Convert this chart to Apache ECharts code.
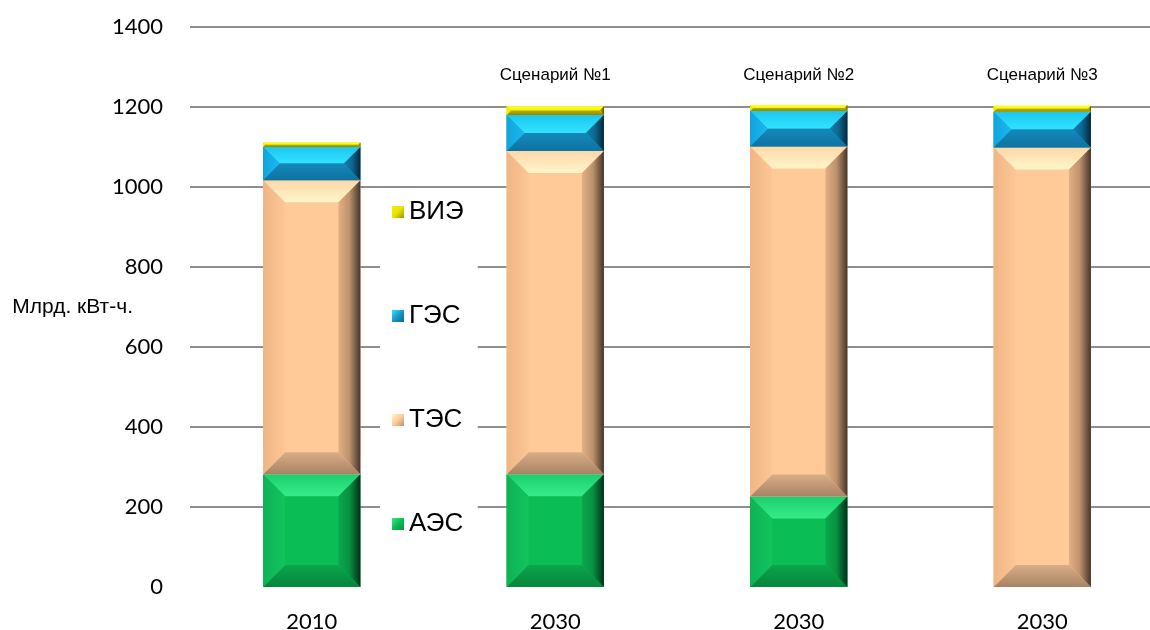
<!DOCTYPE html>
<html><head><meta charset="utf-8">
<script src="https://cdn.jsdelivr.net/npm/echarts@6/dist/echarts.min.js"></script>
<style>html,body{margin:0;padding:0;background:#fff}#c{width:1150px;height:630px}</style>
</head><body><div id="c"></div>
<script>
// ---- data ----
const categories = ['2010', '2030', '2030', '2030'];
const scenarioLabels = ['', 'Сценарий №1', 'Сценарий №2', 'Сценарий №3'];
const seriesNames = ['АЭС', 'ТЭС', 'ГЭС', 'ВИЭ'];
const aes = [282, 282, 226, 0];
const tes = [735, 808, 875, 1099];
const ges = [83, 90, 89, 89];
const vie = [11, 22, 15, 15];
const yMin = 0, yMax = 1400, yStep = 200;
const yAxisName = 'Млрд. кВт-ч.';

// ---- styles ----
const palettes = {
  'АЭС': { center: '#0ABD55', top: ['#1CCF6E', '#36EC89'], bottom: ['#0AA64C', '#07853B'],
           left: ['#0EB256', '#12C45D'], right: ['#0AA84D', '#08913F', '#02301A'] },
  'ТЭС': { center: '#FFCA98', top: ['#FFD7A8', '#FFF6C9'], bottom: ['#D9AD86', '#A78365'],
           left: ['#F0B584', '#FDC695'], right: ['#E4AF82', '#BC916D', '#46342A'] },
  'ГЭС': { center: '#1897C9', top: ['#1DC6F0', '#30E4FF'], bottom: ['#1489BC', '#0E72A0'],
           left: ['#10A4DC', '#1BB8EE'], right: ['#137FB0', '#0D6690', '#05283A'] },
  'ВИЭ': { center: '#E8E200', top: ['#FFFF30', '#F6F200'], bottom: ['#B8B000', '#8E8800'],
           left: ['#F2EE00', '#EEEA00'], right: ['#C8C200', '#9A9400', '#4A4600'] }
};

function lg(x, y, x2, y2, stops) {
  return { type: 'linear', x: x, y: y, x2: x2, y2: y2,
    colorStops: stops.map((c, k) => ({ offset: k / (stops.length - 1), color: c })) };
}

function bevelItem(pal) {
  return function (params, api) {
    const i = api.value(0), v0 = api.value(1), v1 = api.value(2);
    if (v1 - v0 <= 0) return null;
    const pB = api.coord([i, v0]), pT = api.coord([i, v1]);
    const bw = api.size([1, 0])[0] * 0.4;
    const x0 = pB[0] - bw / 2, x1 = pB[0] + bw / 2;
    const yb = pB[1], yt = pT[1];
    const h = yb - yt;
    const d = Math.min(22, h / 2, bw / 2);
    const poly = (pts, fill) => ({ type: 'polygon', shape: { points: pts }, style: { fill: fill, stroke: null } });
    return { type: 'group', children: [
      { type: 'rect', shape: { x: x0, y: yt, width: bw, height: h }, style: { fill: pal.center } },
      poly([[x0, yt], [x1, yt], [x1 - d, yt + d], [x0 + d, yt + d]], lg(0, 0, 0, 1, pal.top)),
      poly([[x0, yb], [x1, yb], [x1 - d, yb - d], [x0 + d, yb - d]], lg(0, 0, 0, 1, pal.bottom)),
      poly([[x0, yt], [x0 + d, yt + d], [x0 + d, yb - d], [x0, yb]], lg(0, 0, 1, 0, pal.left)),
      poly([[x1, yt], [x1 - d, yt + d], [x1 - d, yb - d], [x1, yb]], lg(0, 0, 1, 0, pal.right))
    ] };
  };
}

const values = { 'АЭС': aes, 'ТЭС': tes, 'ГЭС': ges, 'ВИЭ': vie };
const base = categories.map(() => 0);
const series = seriesNames.map(name => {
  const vals = values[name];
  const data = categories.map((c, i) => {
    const b = base[i];
    base[i] += vals[i];
    return [i, b, b + vals[i]];
  });
  const pal = palettes[name];
  return {
    name: name, type: 'custom', xAxisIndex: 0, yAxisIndex: 0,
    renderItem: bevelItem(pal),
    encode: { x: 0, y: [1, 2] },
    itemStyle: { color: lg(0, 0, 1, 1, [pal.top[1], pal.center, pal.right[1]]) },
    data: data
  };
});

const chart = echarts.init(document.getElementById('c'), null, { renderer: 'canvas' });
chart.setOption({
  animation: false,
  backgroundColor: '#fff',
  grid: { left: 190, right: -14, top: 27, bottom: 43, containLabel: false, outerBoundsMode: 'none' },
  legend: {
    orient: 'vertical', left: 380, top: 192,
    padding: [5, 14, 5, 12], itemGap: 74, itemWidth: 12, itemHeight: 12,
    backgroundColor: '#fff', selectedMode: false, icon: 'rect',
    textStyle: { fontFamily: 'Liberation Sans', fontSize: 26, color: '#000', lineHeight: 30 },
    data: ['ВИЭ', 'ГЭС', 'ТЭС', 'АЭС']
  },
  xAxis: [
    { type: 'category', data: categories, axisLine: { show: false }, axisTick: { show: false },
      axisLabel: { interval: 0, margin: 24, fontFamily: 'Lato', fontSize: 22, color: '#000' } },
    { type: 'category', position: 'top', data: scenarioLabels, axisLine: { show: false }, axisTick: { show: false },
      axisLabel: { inside: true, interval: 0, margin: 40, fontFamily: 'Liberation Sans', fontSize: 17, color: '#000' } }
  ],
  yAxis: {
    type: 'value', min: yMin, max: yMax, interval: yStep,
    name: yAxisName, nameLocation: 'middle', nameRotate: 0, nameGap: 57, nameMoveOverlap: false,
    nameTextStyle: { fontFamily: 'Liberation Sans', fontSize: 21, color: '#000', align: 'right', verticalAlign: 'middle' },
    axisLine: { show: false }, axisTick: { show: false },
    axisLabel: { margin: 27, fontFamily: 'Lato', fontSize: 22, color: '#000', formatter: v => String(v) },
    splitLine: { show: true, showMinLine: false, lineStyle: { color: '#8f8f8f', width: 2 } }
  },
  series: series
});
</script></body></html>
